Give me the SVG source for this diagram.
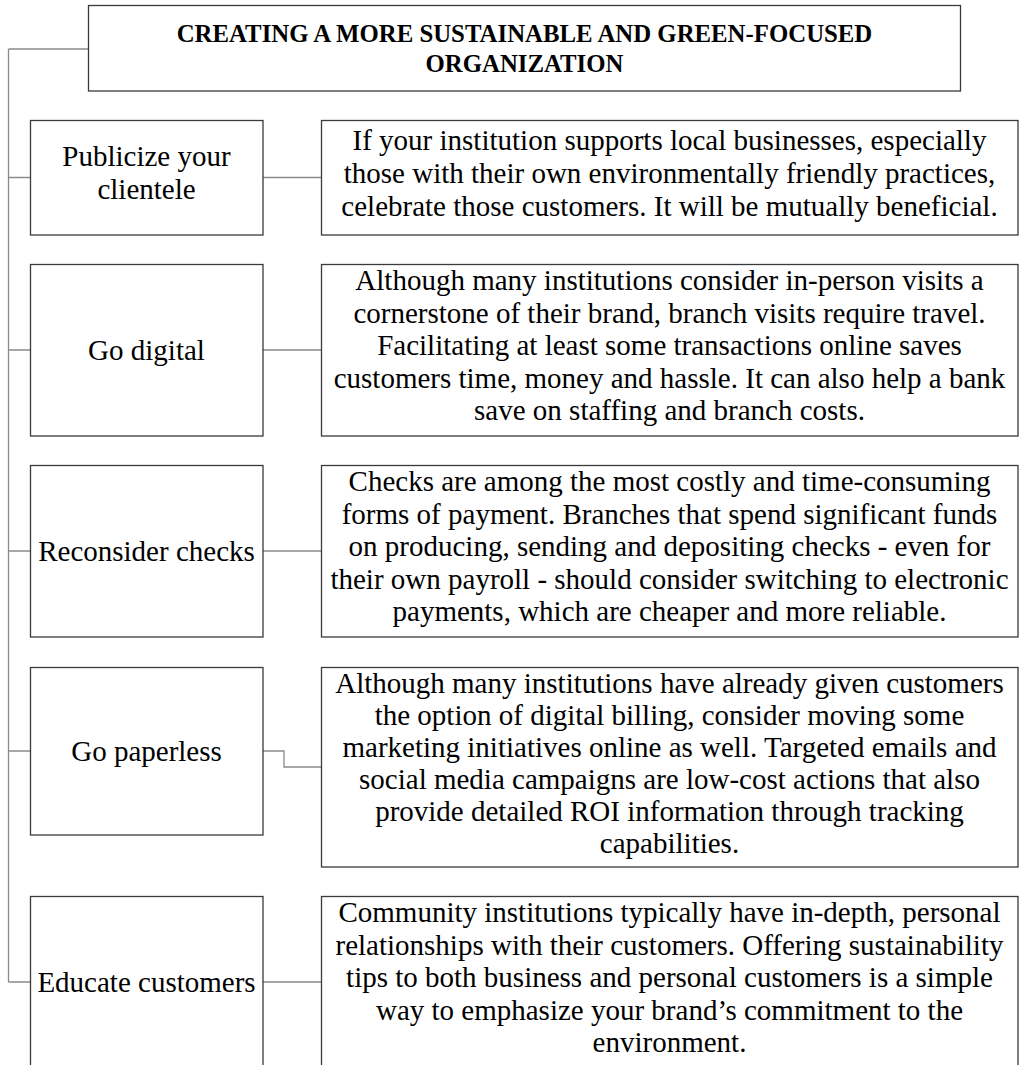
<svg xmlns="http://www.w3.org/2000/svg" width="1021" height="1065" viewBox="0 0 1021 1065">
<style>
.bg{fill:#ffffff}
.box{fill:#ffffff;stroke:#3a3a3a;stroke-width:1.3}
.conn{fill:none;stroke:#8a8a8a;stroke-width:1.3}
.t{font-family:"Liberation Serif","Times New Roman",serif;font-size:29px;fill:#000;text-anchor:middle}
.title{font-family:"Liberation Serif","Times New Roman",serif;font-size:24.8px;font-weight:bold;fill:#000;text-anchor:middle}
</style>
<rect class="bg" x="0" y="0" width="1021" height="1065"/>
<g id="connectors">
<path class="conn" d="M8.5,49 H88 M8.5,49 V982"/>
<path class="conn" d="M8.5,177.5 H30 M263,177.5 H321"/>
<path class="conn" d="M8.5,350 H30 M263,350 H321"/>
<path class="conn" d="M8.5,551 H30 M263,551 H321"/>
<path class="conn" d="M8.5,751 H30 M263,751 H284 V767 H321"/>
<path class="conn" d="M8.5,982 H30 M263,982 H321"/>
</g>
<g id="title">
<rect class="box" x="88.5" y="5.5" width="872" height="85.5"/>
<text class="title" x="524.5" y="42">CREATING A MORE SUSTAINABLE AND GREEN-FOCUSED</text>
<text class="title" x="524.5" y="72">ORGANIZATION</text>
</g>
<g id="n1">
<rect class="box" x="30.5" y="120.5" width="232.5" height="114.5"/>
<text class="t" x="146.5" y="166">Publicize your</text>
<text class="t" x="146.5" y="199">clientele</text>
</g>
<g id="d1">
<rect class="box" x="321.5" y="120.5" width="696.5" height="114.5"/>
<text class="t" x="669.5" y="150">If your institution supports local businesses, especially</text>
<text class="t" x="669.5" y="183">those with their own environmentally friendly practices,</text>
<text class="t" x="669.5" y="216">celebrate those customers. It will be mutually beneficial.</text>
</g>
<g id="n2">
<rect class="box" x="30.5" y="264.5" width="232.5" height="171.5"/>
<text class="t" x="146.5" y="360">Go digital</text>
</g>
<g id="d2">
<rect class="box" x="321.5" y="264.5" width="696.5" height="171.5"/>
<text class="t" x="669.5" y="290">Although many institutions consider in-person visits a</text>
<text class="t" x="669.5" y="322.5">cornerstone of their brand, branch visits require travel.</text>
<text class="t" x="669.5" y="355">Facilitating at least some transactions online saves</text>
<text class="t" x="669.5" y="387.5">customers time, money and hassle. It can also help a bank</text>
<text class="t" x="669.5" y="420">save on staffing and branch costs.</text>
</g>
<g id="n3">
<rect class="box" x="30.5" y="465.5" width="232.5" height="171.5"/>
<text class="t" x="146.5" y="561">Reconsider checks</text>
</g>
<g id="d3">
<rect class="box" x="321.5" y="465.5" width="696.5" height="171.5"/>
<text class="t" x="669.5" y="491">Checks are among the most costly and time-consuming</text>
<text class="t" x="669.5" y="523.5">forms of payment. Branches that spend significant funds</text>
<text class="t" x="669.5" y="556">on producing, sending and depositing checks - even for</text>
<text class="t" x="669.5" y="588.5">their own payroll - should consider switching to electronic</text>
<text class="t" x="669.5" y="621">payments, which are cheaper and more reliable.</text>
</g>
<g id="n4">
<rect class="box" x="30.5" y="667.5" width="232.5" height="167.5"/>
<text class="t" x="146.5" y="761">Go paperless</text>
</g>
<g id="d4">
<rect class="box" x="321.5" y="667.5" width="696.5" height="199.5"/>
<text class="t" x="669.5" y="693">Although many institutions have already given customers</text>
<text class="t" x="669.5" y="725">the option of digital billing, consider moving some</text>
<text class="t" x="669.5" y="757">marketing initiatives online as well. Targeted emails and</text>
<text class="t" x="669.5" y="789">social media campaigns are low-cost actions that also</text>
<text class="t" x="669.5" y="821">provide detailed ROI information through tracking</text>
<text class="t" x="669.5" y="853">capabilities.</text>
</g>
<g id="n5">
<rect class="box" x="30.5" y="896.5" width="232.5" height="171.5"/>
<text class="t" x="146.5" y="992">Educate customers</text>
</g>
<g id="d5">
<rect class="box" x="321.5" y="896.5" width="696.5" height="171.5"/>
<text class="t" x="669.5" y="922">Community institutions typically have in-depth, personal</text>
<text class="t" x="669.5" y="954.5">relationships with their customers. Offering sustainability</text>
<text class="t" x="669.5" y="987">tips to both business and personal customers is a simple</text>
<text class="t" x="669.5" y="1019.5">way to emphasize your brand’s commitment to the</text>
<text class="t" x="669.5" y="1052">environment.</text>
</g>
</svg>
